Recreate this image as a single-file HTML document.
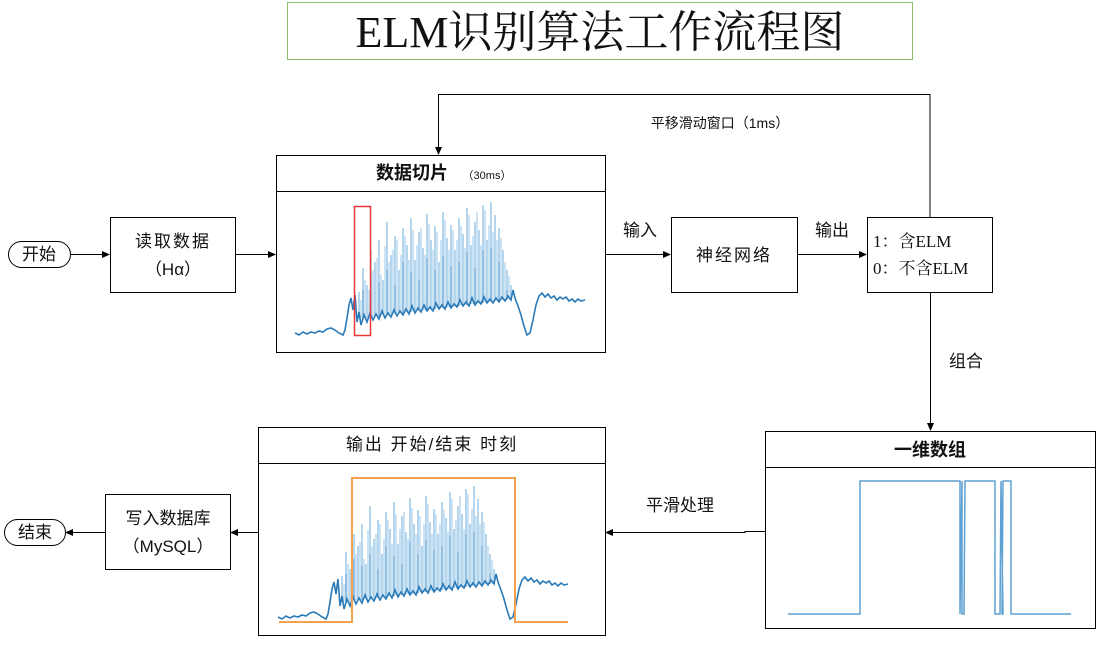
<!DOCTYPE html>
<html><head><meta charset="utf-8"><style>
body{margin:0;background:#fff;width:1100px;height:642px;overflow:hidden}
svg text{font-family:"Liberation Sans","Noto Sans CJK SC",sans-serif;fill:#111}
</style></head><body>
<svg width="1100" height="642" viewBox="0 0 1100 642" xmlns="http://www.w3.org/2000/svg" xmlns:xlink="http://www.w3.org/1999/xlink">
<defs><marker id="a" markerWidth="8" markerHeight="8" refX="7" refY="4" orient="auto" markerUnits="userSpaceOnUse"><path d="M0,0.5 L8,4 L0,7.5z" fill="#000"/></marker></defs>
<rect x="287.5" y="2.5" width="625" height="57" fill="#fff" stroke="#8dbf6a" stroke-width="1"/>
<text x="600" y="47" text-anchor="middle" font-size="44" style="font-family:'Liberation Serif','Noto Serif CJK SC',serif">ELM识别算法工作流程图</text>
<g fill="none" stroke="#000" stroke-width="1">
<polyline points="930,217 930,94.5 438.5,94.5 438.5,154" marker-end="url(#a)"/>
<line x1="70" y1="254.5" x2="109" y2="254.5" marker-end="url(#a)"/>
<line x1="235" y1="254.5" x2="275" y2="254.5" marker-end="url(#a)"/>
<line x1="605" y1="254.5" x2="670" y2="254.5" marker-end="url(#a)"/>
<line x1="797" y1="254.5" x2="866" y2="254.5" marker-end="url(#a)"/>
<line x1="930.5" y1="292" x2="930.5" y2="430" marker-end="url(#a)"/>
<polyline points="765,531.5 745,531.5 745,532.5 606,532.5" marker-end="url(#a)"/>
<line x1="258" y1="532.5" x2="231" y2="532.5" marker-end="url(#a)"/>
<line x1="105" y1="532.5" x2="66" y2="532.5" marker-end="url(#a)"/>
<rect x="8.5" y="241.5" width="62" height="26" rx="13"/>
<rect x="4.5" y="519.5" width="61" height="26" rx="13"/>
<rect x="110.5" y="217.5" width="125" height="75"/>
<rect x="671.5" y="217.5" width="126" height="75"/>
<rect x="867.5" y="217.5" width="125" height="75"/>
<rect x="105.5" y="494.5" width="125" height="75"/>
<rect x="276.5" y="155.5" width="329" height="197"/>
<line x1="276" y1="191.5" x2="605" y2="191.5"/>
<rect x="765.5" y="431.5" width="330" height="197"/>
<line x1="765" y1="467.5" x2="1095" y2="467.5"/>
<rect x="258.5" y="427.5" width="347" height="208"/>
<line x1="258" y1="463.5" x2="605" y2="463.5"/>
</g>
<g font-size="17">
<text x="39" y="260" text-anchor="middle">开始</text>
<text x="35" y="538" text-anchor="middle">结束</text>
<text x="173" y="247" text-anchor="middle" letter-spacing="2">读取数据</text>
<text x="173" y="275" text-anchor="middle">（Hα）</text>
<text x="734" y="261" text-anchor="middle" letter-spacing="2">神经网络</text>
<text x="168" y="524" text-anchor="middle">写入数据库</text>
<text x="168" y="552" text-anchor="middle">（MySQL）</text>
<text x="640" y="236" text-anchor="middle">输入</text>
<text x="832" y="236" text-anchor="middle">输出</text>
<text x="966" y="367" text-anchor="middle">组合</text>
<text x="680" y="511" text-anchor="middle">平滑处理</text>
<text x="873" y="247" style="font-family:'Liberation Serif','Noto Serif CJK SC',serif">1：含ELM</text>
<text x="873" y="274" style="font-family:'Liberation Serif','Noto Serif CJK SC',serif">0：不含ELM</text>
<text x="930" y="456" text-anchor="middle" font-size="18" font-weight="bold">一维数组</text>
<text x="432" y="450" text-anchor="middle" letter-spacing="2">输出 开始/结束 时刻</text>
</g>
<text x="412" y="179" text-anchor="middle" font-size="18" font-weight="bold">数据切片</text>
<text x="487" y="179" text-anchor="middle" font-size="11">（30ms）</text>
<text x="720" y="128" text-anchor="middle" font-size="14">平移滑动窗口（1ms）</text>
<g id="sig">
<path fill="none" stroke="#8fbfe3" stroke-width="1.3" d="M359 318V292M363 318V268M367 318V285M371 316V250M375 316V262M379 316V240M383 315V280M387 315V222M391 314V255M395 314V236M399 313V270M403 313V228M407 312V245M411 312V218M415 311V260M419 311V232M423 310V248M427 310V214M431 309V240M435 309V226M439 308V262M443 308V212M447 307V238M451 307V225M455 306V250M459 306V218M463 305V234M467 305V208M471 304V245M475 304V222M479 303V230M483 303V205M487 302V240M491 302V202M495 301V215M499 301V228M503 300V250M507 300V270M511 299V285"/>
<path fill="none" stroke="#a9d0ec" stroke-width="1.2" d="M361 318V300M365 318V280M369 317V290M373 316V270M377 316V258M381 315V275M385 315V246M389 314V262M393 314V250M397 313V240M401 313V255M405 312V236M409 312V260M413 311V230M417 311V245M421 310V228M425 310V255M429 309V224M433 309V250M437 308V232M441 308V240M445 307V220M449 307V250M453 306V230M457 306V240M461 305V226M465 305V248M469 304V215M473 304V236M477 303V212M481 303V245M485 302V210M489 302V225M493 301V232M497 301V240M501 300V238M505 300V262M509 299V276"/>
<path fill="none" stroke="#3a87c2" stroke-width="0.8" d="M363 318V290M371 316V275M379 316V282M387 315V270M395 314V285M403 313V262M411 312V272M419 311V280M427 310V258M435 309V270M443 308V256M451 307V266M459 306V262M467 305V252M475 304V268M483 303V250M491 302V248M499 301V262M507 300V290"/>
<polyline fill="none" stroke="#2a7ab8" stroke-width="1.6" points="295,333 299,335 303,332 307,334 311,332 315,333 319,331 323,332 327,329 331,328 335,330 339,333 343,335 345,330 347,318 349,305 351,298 353,310 355,295 357,322 359,312 361,325 364,315 367,322 370,313 373,320 376,314 379,319 382,311 385,318 388,313 391,317 394,310 397,316 400,311 403,315 406,309 409,314 412,306 415,313 418,308 421,312 424,305 427,311 430,307 433,311 436,303 439,309 442,305 445,309 448,302 451,308 454,304 457,307 460,300 463,306 466,302 469,306 472,298 475,305 478,301 481,304 484,297 487,303 490,299 493,303 496,298 499,302 502,297 505,301 508,296 511,300 513,290 515,298 518,306 521,315 524,326 527,335 530,333 533,320 536,305 539,296 542,293 545,297 548,294 551,298 554,296 557,300 560,297 563,299 566,297 569,301 572,299 575,302 578,299 581,301 585,300"/>
</g>
<use xlink:href="#sig" href="#sig" transform="translate(-17,284)"/>
<rect x="354.5" y="206.5" width="16" height="129" fill="none" stroke="#e8383a" stroke-width="1.5"/>
<polyline points="279,622 352,622 352,478 515,478 515,622 568,622" fill="none" stroke="#f5a04c" stroke-width="2"/>
<polyline points="788,614 860,614 860,481 960,481 960,614 962,481 962,614 964,614 965,481 995,481 995,614 1000,614 1001,481 1003,614 1002,614 1003,481 1011,481 1011,614 1071,614" fill="none" stroke="#5fa0d2" stroke-width="1.5"/>
</svg>
</body></html>
